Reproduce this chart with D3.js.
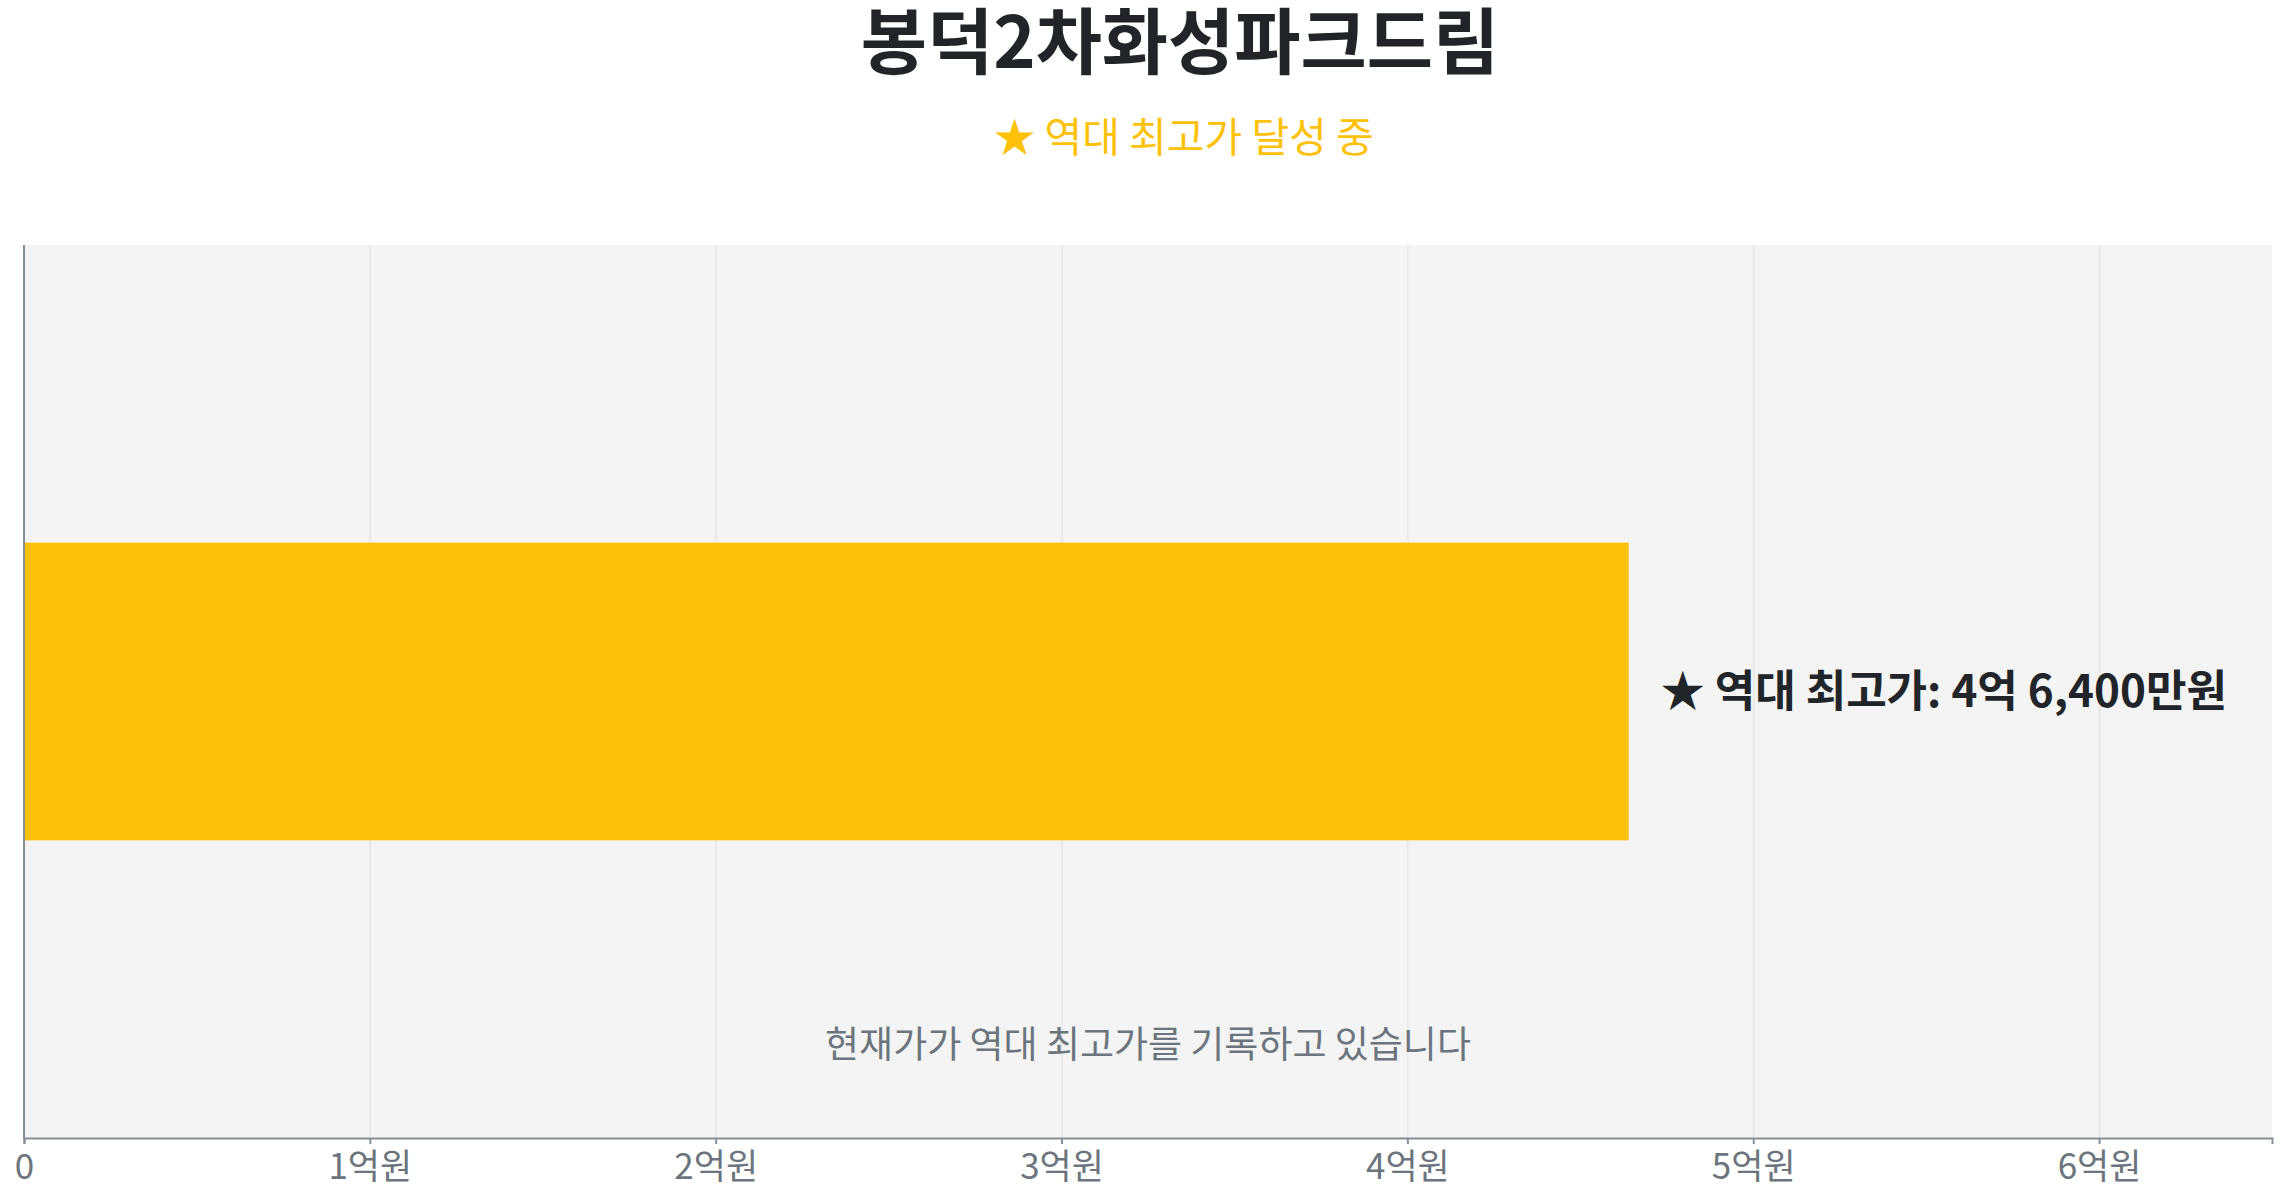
<!DOCTYPE html>
<meta charset="utf-8">
<style>
body { margin: 0; background: #fff; }
text { font-family: "Noto Sans CJK KR", "Noto Sans", sans-serif; }
.x-axis .domain { stroke: #868e96; stroke-width: 2; }
.x-axis .tick line { stroke: #868e96; stroke-width: 2; }
.x-axis .tick text { fill: #6c757d; font-size: 35px; }
.grid line { stroke: #e6e6e6; stroke-width: 1.5; }
.grid .domain { display: none; }
</style>
<svg width="2287" height="1200"></svg>
<script src="https://d3js.org/d3.v7.min.js"></script>
<script>

// data
var categories = ["봉덕2차화성파크드림"];
var highPrice = [464000000];   // 역대 최고가 (원)
var tickValues = [0, 1e8, 2e8, 3e8, 4e8, 5e8, 6e8];
var tickLabels = ["0", "1억원", "2억원", "3억원", "4억원", "5억원", "6억원"];
var titleText = "봉덕2차화성파크드림";
var subtitleText = "★ 역대 최고가 달성 중";
var barLabelText = "★ 역대 최고가: 4억 6,400만원";
var noteText = "현재가가 역대 최고가를 기록하고 있습니다";

var svg = d3.select("svg"),
    margin = {top: 245, right: 15, bottom: 62, left: 24},
    width = +svg.attr("width") - margin.left - margin.right,
    height = +svg.attr("height") - margin.top - margin.bottom,
    g = svg.append("g").attr("transform", "translate(" + margin.left + "," + margin.top + ")");

var x = d3.scaleLinear()
    .domain([0, 6.5e8])
    .range([0, width]);

var y = d3.scaleBand()
    .domain(categories)
    .range([0, height])
    .padding(0.5);

// title
svg.append("text")
    .attr("x", 1180)
    .attr("y", 68)
    .attr("text-anchor", "middle")
    .style("font-size", "72px")
    .style("font-weight", "bold")
    .style("fill", "#212529")
    .text(titleText);

svg.append("text")
    .attr("x", 1184)
    .attr("y", 152)
    .attr("text-anchor", "middle")
    .style("font-size", "41px")
    .style("fill", "#ffc107")
    .text(subtitleText);

// plot background
g.append("rect")
    .attr("width", width)
    .attr("height", height)
    .attr("fill", "#f4f4f4");

// grid
g.append("g")
    .attr("class", "grid")
    .call(d3.axisBottom(x).tickValues(tickValues).tickSize(height).tickFormat(""));

// bar
g.selectAll(".bar")
    .data(categories)
    .enter().append("rect")
      .attr("class", "bar")
      .attr("x", x(0))
      .attr("y", function(d) { return y(d); })
      .attr("width", function(d, i) { return x(highPrice[i]) - x(0); })
      .attr("height", y.bandwidth())
      .attr("fill", "#fdc10b");

g.selectAll(".bar-label")
    .data(categories)
    .enter().append("text")
      .attr("class", "bar-label")
      .attr("x", function(d, i) { return x(highPrice[i]) + 32; })
      .attr("y", function(d) { return y(d) + y.bandwidth() / 2; })
      .attr("dy", "0.35em")
      .style("font-size", "44px")
      .style("font-weight", "bold")
      .style("fill", "#212529")
      .text(barLabelText);

// note
g.append("text")
    .attr("x", width / 2)
    .attr("y", height - 80)
    .attr("text-anchor", "middle")
    .style("font-size", "37px")
    .style("fill", "#6c757d")
    .text(noteText);

// axes
g.append("g")
    .attr("class", "x-axis")
    .attr("transform", "translate(0," + height + ")")
    .call(d3.axisBottom(x)
      .tickValues(tickValues)
      .tickSize(6)
      .tickPadding(10)
      .tickFormat(function(d, i) { return tickLabels[i]; }));

g.append("line")
    .attr("x1", 0).attr("x2", 0)
    .attr("y1", 0).attr("y2", height)
    .attr("stroke", "#868e96")
    .attr("stroke-width", 2);

</script>
